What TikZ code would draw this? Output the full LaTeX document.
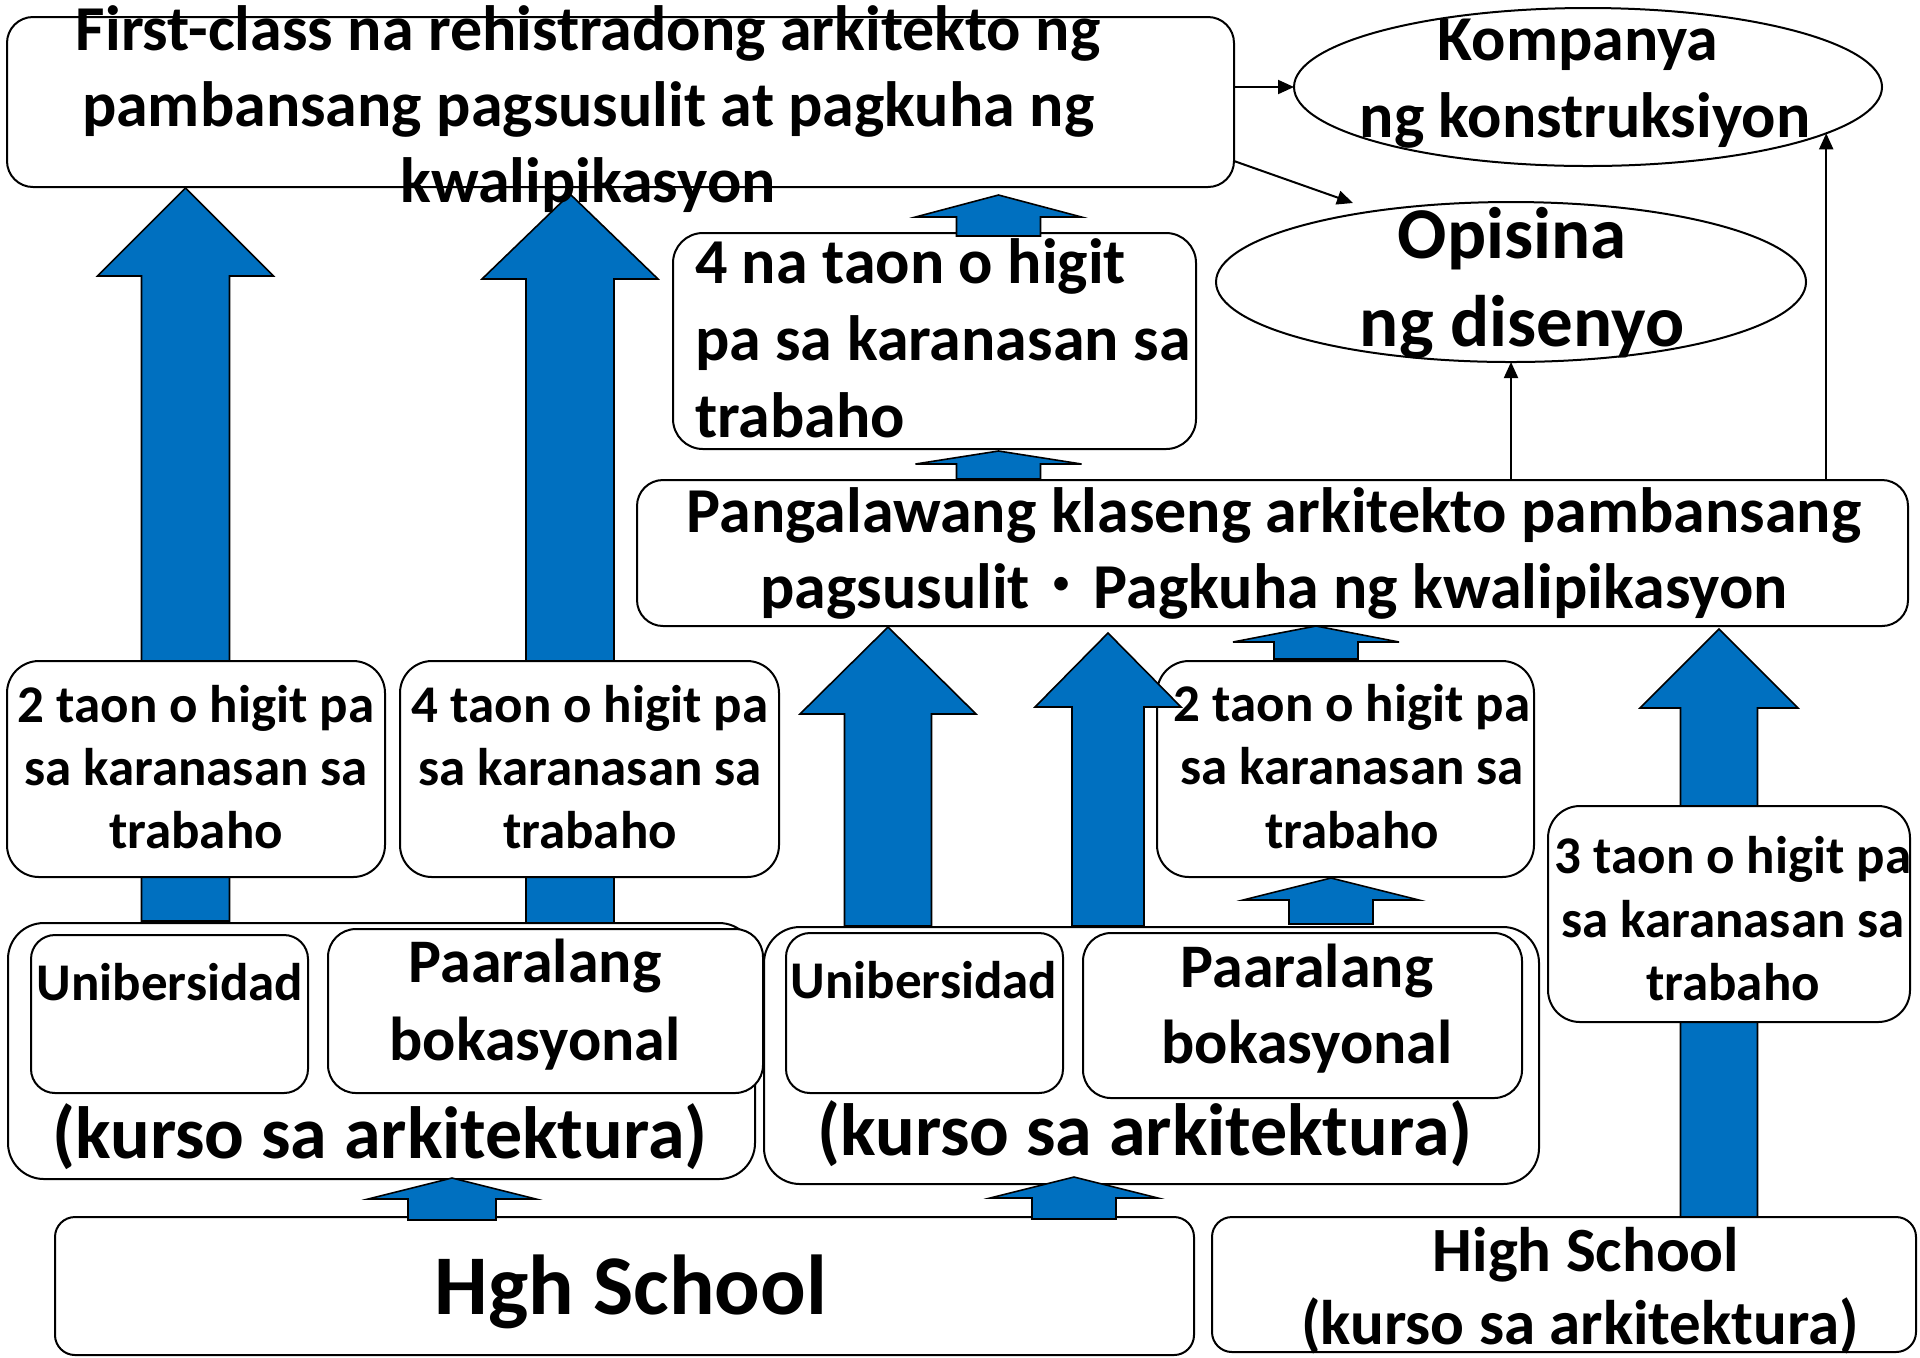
\documentclass[tikz,border=0pt]{standalone}
\usepackage{fontspec}
\setmainfont{Carlito}
\newfontfamily\cjk{Noto Sans CJK JP}
\usetikzlibrary{arrows.meta,fit,shapes.geometric}
\definecolor{arrblue}{HTML}{0070C0}
\newcommand\blockup[6]{\draw[blockarr] (#1,#2) -- ({#1+#4},#3) -- ({#1+#5},#3) -- ({#1+#5},#6) -- ({#1-#5},#6) -- ({#1-#5},#3) -- ({#1-#4},#3) -- cycle;}
\tikzset{
  rbox/.style={draw=black, fill=white, line width=1pt, rounded corners=#1, inner sep=0pt, outer sep=0pt},
  rbox/.default=14pt,
  ell/.style={draw=black, fill=white, line width=1pt, ellipse, inner sep=0pt, outer sep=0pt},
  blockarr/.style={fill=arrblue, draw=black, line width=0.8pt, line join=miter},
  thinarr/.style={draw=black, line width=1pt, -{Triangle[length=8pt,width=7pt]}},
  txt/.style={inner sep=0pt, outer sep=0pt, anchor=base},
  fA/.style={txt, font=\bfseries\fontsize{32pt}{38pt}\selectfont},
  fB/.style={txt, font=\bfseries\fontsize{26.5pt}{32pt}\selectfont},
  fC/.style={txt, font=\bfseries\fontsize{36.5pt}{44pt}\selectfont},
  fD/.style={txt, font=\bfseries\fontsize{31pt}{38pt}\selectfont},
  fE/.style={txt, font=\bfseries\fontsize{37pt}{44pt}\selectfont},
  fF/.style={txt, font=\bfseries\fontsize{42.5pt}{50pt}\selectfont},
  fG/.style={txt, font=\bfseries\fontsize{31.5pt}{38pt}\selectfont},
}
\begin{document}
\begin{tikzpicture}[x=0.5pt,y=-0.5pt]
\useasboundingbox (0,0) rectangle (1920,1357);
\fill[white] (0,0) rectangle (1920,1357);

% tall block arrows behind boxes
\blockup{185.5}{188}{276}{88}{44}{921}
\blockup{570}{194}{279}{88}{44}{924}
\blockup{1719}{629}{708}{79}{38.5}{1217}

% boxes
\node[rbox=13pt, fit={(7,17) (1234,187)}] (top) {};
\node[rbox=15pt, fit={(673,233) (1196,449)}] (four) {};
\node[rbox=13pt, fit={(637,480) (1908,626)}] (pang) {};
\node[rbox=16pt, fit={(7,661) (385,877)}] (twoL) {};
\node[rbox=16pt, fit={(400,661) (779,877)}] (fourL) {};
\node[rbox=18pt, fit={(8,923) (755,1179)}] (bigL) {};
\node[rbox=12pt, fit={(31,935) (308,1093)}] (uniL) {};
\node[rbox=14pt, fit={(328,929) (763,1093)}] (paaL) {};
\node[rbox=18pt, fit={(764,927) (1539,1184)}] (bigM) {};
\node[rbox=12pt, fit={(786,933) (1063,1093)}] (uniM) {};
\node[rbox=14pt, fit={(1083,933) (1522,1098)}] (paaM) {};
\node[rbox=16pt, fit={(1157,661) (1534,877)}] (twoR) {};
\node[rbox=16pt, fit={(1548,806) (1910,1022)}] (three) {};
\node[rbox=10pt, fit={(55,1217) (1194,1355)}] (hgh) {};
\node[rbox=10pt, fit={(1212,1217) (1916,1352)}] (hsr) {};

% ellipses
\node[ell, minimum width=294pt, minimum height=79pt] (kom) at (1588,87) {};
\node[ell, minimum width=295pt, minimum height=80pt] (opi) at (1511,282) {};

% small / front block arrows
\blockup{998.5}{195}{217}{83}{42}{236}
\blockup{998.5}{451}{464}{83}{42}{479}
\blockup{888}{627}{714}{88}{43.5}{926}
\blockup{1108}{633}{707}{73}{36}{926}
\blockup{1316}{626}{642}{83}{42}{659}
\blockup{1331}{878}{900}{88}{42}{924}
\blockup{452}{1178}{1199}{84}{44}{1220}
\blockup{1074}{1177}{1198}{84}{42}{1219}

% thin connectors
\coordinate (a5s) at (1238,161);
\coordinate (a5e) at (1353,203);
\draw[thinarr] (top.east |- kom.west) -- (kom.west);
\draw[thinarr] (a5s -| top.east) -- (a5e);
\draw[thinarr] (pang.north -| opi.south) -- (opi.south);
\draw[thinarr] (pang.north -| kom.-11) -- (kom.-11);

% texts
\node[fA] (t1a) at (588,50) {First-class na rehistradong arkitekto ng};
\node[fA] (t1b) at (588,126) {pambansang pagsusulit at pagkuha ng};
\node[fA] (t1c) at (588,202) {kwalipikasyon};
\node[fA] (k1) at (1578,60) {Kompanya};
\node[fA] (k2) at (1585,137) {ng konstruksiyon};
\node[fC] (o1) at (1512,258) {Opisina};
\node[fC] (o2) at (1522,346) {ng disenyo};
\node[fA, anchor=base west] (f1) at (695,283) {4 na taon o higit};
\node[fA, anchor=base west] (f2) at (695,360) {pa sa karanasan sa};
\node[fA, anchor=base west] (f3) at (695,437) {trabaho};
\node[fA] (p1) at (1274,532) {Pangalawang klaseng arkitekto pambansang};
\node[fA] (p2) at (1274,608) {pagsusulit{\cjk\mdseries ・}Pagkuha ng kwalipikasyon};

\node[fB] (l1) at (196,722) {2 taon o higit pa};
\node[fB] (l2) at (196,785) {sa karanasan sa};
\node[fB] (l3) at (196,848) {trabaho};
\node[fB] (m1) at (590,722) {4 taon o higit pa};
\node[fB] (m2) at (590,785) {sa karanasan sa};
\node[fB] (m3) at (590,848) {trabaho};
\node[fB] (r1) at (1352,721) {2 taon o higit pa};
\node[fB] (r2) at (1352,784) {sa karanasan sa};
\node[fB] (r3) at (1352,848) {trabaho};
\node[fB] (s1) at (1733,873) {3 taon o higit pa};
\node[fB] (s2) at (1733,937) {sa karanasan sa};
\node[fB] (s3) at (1733,1000) {trabaho};

\node[fB] (u1) at (170,1000) {Unibersidad};
\node[fB] (u2) at (924,998) {Unibersidad};
\node[fD] (pa1) at (535,982) {Paaralang};
\node[fD] (pa2) at (535,1060) {bokasyonal};
\node[fD] (pb1) at (1307,987) {Paaralang};
\node[fD] (pb2) at (1307,1063) {bokasyonal};
\node[fE] (ka) at (380,1158) {(kurso sa arkitektura)};
\node[fE] (kb) at (1145,1155) {(kurso sa arkitektura)};

\node[fF] (h1) at (631,1314) {Hgh School};
\node[fG] (h2) at (1586,1271) {High School};
\node[fG] (h3) at (1580,1344) {(kurso sa arkitektura)};
\end{tikzpicture}
\end{document}
